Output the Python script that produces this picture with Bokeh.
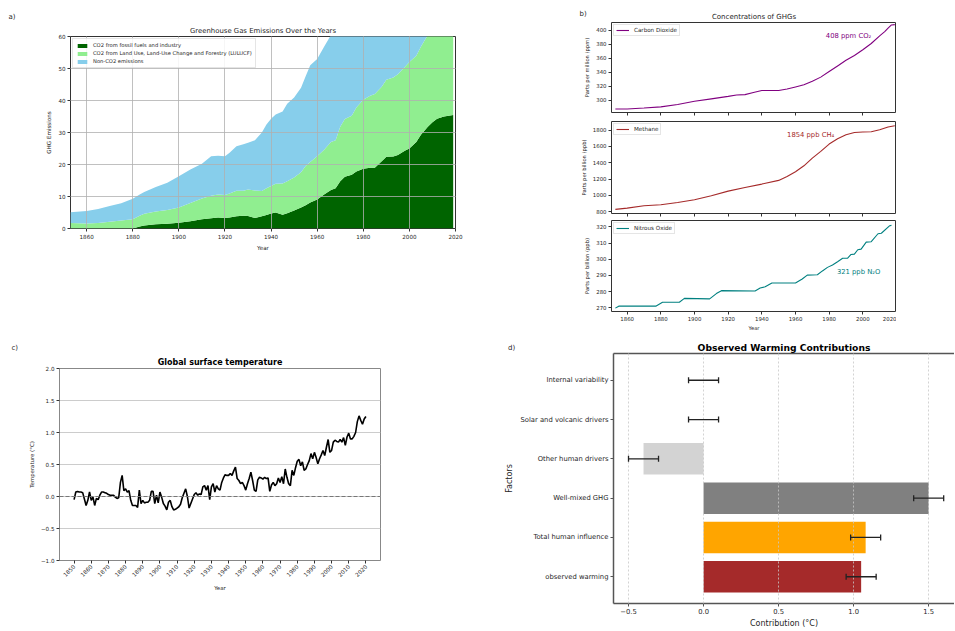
import math
import numpy as np
from bokeh.plotting import figure
from bokeh.models import (ColumnDataSource, Range1d, FixedTicker, Label, Span,
                          Whisker, LinearAxis, TeeHead)
from bokeh.layouts import row, column
from bokeh.embed import file_html
from bokeh.resources import INLINE

FONT = "DejaVu Sans"
TXT = "#262626"

# ---------------- a) emissions (stacked) ----------------
emis_years = [1853, 1860, 1865, 1870, 1875, 1880, 1883, 1885, 1890, 1895, 1900, 1905, 1910, 1914,
              1917, 1920, 1922, 1925, 1928, 1930, 1933, 1936, 1938, 1940, 1942, 1945, 1947, 1950,
              1953, 1955, 1957, 1960, 1963, 1966, 1968, 1970, 1972, 1975, 1977, 1980, 1983, 1985,
              1988, 1990, 1993, 1995, 1998, 2000, 2003, 2005, 2008, 2010, 2012, 2015, 2019]
fossil = [0.0, 0.0, 0.0, 0.0, 0.0, 0.0, 0.6, 0.9, 1.3, 1.5, 1.8, 2.3, 2.9, 3.2,
          3.4, 3.3, 3.4, 3.8, 4.0, 3.9, 3.3, 3.8, 4.2, 4.7, 5.0, 4.3, 4.8, 5.6,
          6.6, 7.3, 8.1, 9.1, 10.6, 12.0, 12.6, 14.8, 16.2, 16.8, 17.8, 18.7, 19.0, 19.0,
          21.0, 22.4, 22.5, 23.0, 24.3, 25.0, 27.0, 29.3, 31.8, 33.2, 34.3, 35.0, 35.5]
luc = [1.7, 1.6, 1.7, 2.1, 2.5, 2.9, 3.4, 3.7, 4.0, 4.3, 4.8, 5.7, 6.5, 7.0,
       7.2, 7.2, 7.5, 8.0, 7.8, 8.3, 8.6, 7.9, 8.4, 8.6, 9.0, 9.8, 10.0, 10.3,
       11.0, 12.2, 12.7, 13.5, 14.0, 15.0, 15.0, 17.0, 18.0, 18.4, 20.0, 21.5, 22.5, 23.0,
       23.3, 24.1, 24.7, 25.2, 26.2, 27.0, 27.0, 27.5, 28.7, 28.8, 28.7, 29.0, 29.5]
non_co2 = [3.4, 3.9, 4.4, 4.9, 5.4, 6.4, 6.6, 6.8, 7.7, 8.5, 9.7, 10.4, 10.8, 12.4,
           12.1, 12.1, 12.8, 13.9, 14.5, 14.6, 15.7, 18.3, 19.9, 21.0, 21.6, 22.5, 24.2, 25.0,
           26.4, 28.1, 30.2, 30.4, 32.2, 33.5, 36.4, 36.2, 36.0, 37.0, 37.0, 37.0, 37.0, 37.0,
           37.0, 37.0, 37.0, 37.0, 37.0, 37.0, 37.0, 37.0, 37.0, 37.0, 37.0, 37.0, 37.0]
emis_labels = ["CO2 from fossil fuels and industry",
               "CO2 from Land Use, Land-Use Change and Forestry (LULUCF)",
               "Non-CO2 emissions"]
emis_colors = ["#006400", "#90EE90", "#87CEEB"]
a_xticks = [1860, 1880, 1900, 1920, 1940, 1960, 1980, 2000, 2020]
a_yticks = [0, 10, 20, 30, 40, 50, 60]

# ---------------- b) concentrations ----------------
co2_years = [1853, 1860, 1870, 1880, 1890, 1900, 1910, 1920, 1925, 1930, 1935, 1940, 1945, 1950,
             1955, 1960, 1965, 1970, 1975, 1980, 1985, 1990, 1995, 2000, 2005, 2010, 2013, 2015,
             2017, 2019]
co2_ppm = [287.4, 287.6, 289.0, 290.5, 294.0, 298.5, 302.0, 305.5, 307.5, 308.0, 311.0, 314.0,
           314.0, 314.0, 316.0, 319.0, 322.0, 327.0, 333.0, 341.0, 349.0, 357.0, 364.0, 372.0,
           381.0, 392.0, 398.0, 403.0, 407.5, 408.0]
ch4_years = [1853, 1860, 1870, 1880, 1890, 1900, 1910, 1920, 1930, 1940, 1950, 1955, 1960, 1965,
             1970, 1975, 1980, 1985, 1990, 1995, 2000, 2005, 2010, 2015, 2019]
ch4_ppb = [829, 845, 873, 886, 914, 947, 996, 1053, 1098, 1139, 1184, 1233, 1290, 1363,
           1457, 1539, 1629, 1694, 1743, 1771, 1776, 1780, 1804, 1837, 1854]
n2o_years = [1853, 1855, 1877, 1881, 1891, 1894, 1909, 1913, 1916, 1936, 1939, 1942, 1946, 1960,
             1964, 1967, 1973, 1976, 1979, 1982, 1985, 1988, 1991, 1993, 1995, 1997, 1999, 2002,
             2005, 2009, 2011, 2016, 2017]
n2o_ppb = [269.8, 271.0, 271.0, 273.4, 273.4, 275.8, 275.5, 278.8, 280.6, 280.4, 282.2, 283.0,
           285.3, 285.3, 287.8, 290.2, 290.4, 292.8, 295.0, 296.5, 298.5, 300.6, 300.7, 303.0,
           303.2, 305.9, 306.3, 310.6, 310.9, 315.8, 316.1, 320.8, 321.0]
b_xticks = [1860, 1880, 1900, 1920, 1940, 1960, 1980, 2000, 2020]
co2_yticks = [300, 320, 340, 360, 380, 400]
ch4_yticks = [800, 1000, 1200, 1400, 1600, 1800]
n2o_yticks = [270, 280, 290, 300, 310, 320]

# ---------------- c) temperature ----------------
temp_years = list(range(1850, 2021))
temp_anom = [
    -0.05, 0.07, 0.08, 0.07, 0.07, 0.06, -0.04, -0.14, -0.06, 0.07,
    -0.06, -0.01, -0.14, -0.03, -0.05, 0.02, 0.07, 0.07, 0.06, 0.05,
    0.03, 0.02, 0.02, 0.02, -0.01, -0.03, -0.02, 0.22, 0.33, 0.09,
    0.12, 0.07, 0.09, -0.06, -0.14, -0.14, -0.14, -0.17, 0.10, -0.11,
    -0.06, -0.10, -0.09, -0.09, -0.06, 0.08, 0.08, -0.11, 0.02, -0.10,
    0.07, -0.01, -0.11, -0.15, -0.21, -0.09, -0.06, -0.16, -0.21, -0.20,
    -0.18, -0.16, -0.12, -0.02, 0.05, 0.12, 0.00, -0.18, -0.11, -0.04,
    0.03, 0.06, 0.02, 0.04, 0.03, 0.15, 0.17, 0.10, 0.17, -0.05,
    0.15, 0.20, 0.07, 0.17, 0.12, 0.10, 0.22, 0.29, 0.34, 0.33,
    0.33, 0.36, 0.33, 0.40, 0.46, 0.28, 0.25, 0.20, 0.22, 0.17,
    0.10, 0.20, 0.28, 0.38, 0.25, 0.10, 0.08, 0.26, 0.30, 0.29,
    0.27, 0.30, 0.28, 0.29, 0.08, 0.18, 0.22, 0.17, 0.20, 0.29,
    0.22, 0.31, 0.20, 0.43, 0.30, 0.20, 0.17, 0.41, 0.33, 0.45,
    0.55, 0.58, 0.48, 0.54, 0.41, 0.43, 0.50, 0.56, 0.67, 0.59,
    0.69, 0.61, 0.51, 0.59, 0.65, 0.72, 0.64, 0.77, 0.89, 0.69,
    0.72, 0.85, 0.88, 0.86, 0.85, 0.89, 0.85, 0.92, 0.80, 0.93,
    0.99, 0.90, 0.90, 0.94, 1.00, 1.17, 1.26, 1.19, 1.13, 1.21,
    1.25]
c_xticks = [1850, 1860, 1870, 1880, 1890, 1900, 1910, 1920, 1930, 1940, 1950, 1960, 1970,
            1980, 1990, 2000, 2010, 2020]
c_yticks = [-1.0, -0.5, 0.0, 0.5, 1.0, 1.5, 2.0]
c_ylabels = ["\u22121.0", "\u22120.5", "0.0", "0.5", "1.0", "1.5", "2.0"]

# ---------------- d) contributions ----------------
factors = ["observed warming", "Total human influence", "Well-mixed GHG",
           "Other human drivers", "Solar and volcanic drivers", "Internal variability"]
contrib = [1.05, 1.08, 1.50, -0.40, 0.0, 0.0]
contrib_err = [0.10, 0.10, 0.10, 0.10, 0.10, 0.10]
bar_colors = ["#A52A2A", "#FFA500", "#808080", "#D3D3D3", "#4682B4", "#4682B4"]
d_xticks = [-0.5, 0.0, 0.5, 1.0, 1.5]
d_xlabels = ["\u22120.5", "0.0", "0.5", "1.0", "1.5"]


def base_fig(width, height, x_range, y_range, mb, tick_size="5.6px", label_size="5.6px"):
    p = figure(width=width, height=height, x_range=x_range, y_range=y_range,
               output_backend="svg", toolbar_location=None,
               min_border_left=mb[0], min_border_right=mb[1],
               min_border_top=mb[2], min_border_bottom=mb[3])
    p.frame_align = False
    p.background_fill_color = "white"
    p.border_fill_color = "white"
    p.outline_line_color = "#333333"
    p.outline_line_width = 1
    for ax in p.axis:
        ax.axis_line_color = None
        ax.major_tick_line_color = "#333333"
        ax.major_tick_out = 3
        ax.major_tick_in = 0
        ax.minor_tick_line_color = None
        ax.major_label_text_font = FONT
        ax.major_label_text_color = TXT
        ax.major_label_text_font_size = tick_size
        ax.axis_label_text_font = FONT
        ax.axis_label_text_font_style = "normal"
        ax.axis_label_text_color = TXT
        ax.axis_label_text_font_size = label_size
        ax.major_label_standoff = 2
        ax.axis_label_standoff = 3
    p.title.text_font = FONT
    p.title.text_font_style = "normal"
    p.title.align = "center"
    p.title.text_color = TXT
    p.xgrid.visible = False
    p.ygrid.visible = False
    return p


def panel_label(p, text, x, y):
    # placed in the left side panel so that it is not clipped to the frame
    p.add_layout(Label(x=x, y=y, x_units="screen", y_units="screen", text=text,
                       text_font=FONT, text_font_size="7px", text_color=TXT,
                       text_baseline="middle", text_align="left"), "left")


def style_legend(lg, size, gw, gh, lh, spacing, pad):
    lg.location = "top_left"
    lg.label_text_font = FONT
    lg.label_text_font_size = size
    lg.label_text_color = TXT
    lg.glyph_width = gw
    lg.glyph_height = gh
    lg.label_height = lh
    lg.label_standoff = 5
    lg.spacing = spacing
    lg.padding = pad
    lg.margin = 2
    lg.border_line_color = "#cccccc"
    lg.border_line_width = 0.8
    lg.background_fill_alpha = 0.85


# ======== a ========
pa = base_fig(480, 338, Range1d(1853, 2020), Range1d(0, 60), (70, 25, 36, 110))
src_a = ColumnDataSource(dict(year=emis_years, fossil=fossil, luc=luc, non=non_co2))
pa.varea_stack(stackers=["fossil", "luc", "non"], x="year", color=emis_colors,
               legend_label=emis_labels, source=src_a)
pa.title.text = "Greenhouse Gas Emissions Over the Years"
pa.title.text_font_size = "6.9px"
pa.title.standoff = 3
pa.xaxis.ticker = FixedTicker(ticks=a_xticks)
pa.yaxis.ticker = FixedTicker(ticks=a_yticks)
pa.xaxis.axis_label = "Year"
pa.yaxis.axis_label = "GHG Emissions"
for g in (pa.xgrid, pa.ygrid):
    g.visible = True
    g.grid_line_color = "#b0b0b0"
    g.grid_line_width = 0.8
    g.level = "annotation"
style_legend(pa.legend[0], "5.2px", 12, 5, 6, 2, 3)
panel_label(pa, "a)", -28, 212)

# ======== b ========
bx = Range1d(1850.7, 2020)


def conc_fig(height, mb, y_rng, yticks, xs, ys, color, name, ylabel, note, nx, ny, show_x):
    p = base_fig(416, height, bx, y_rng, mb, tick_size="5.4px", label_size="5.2px")
    p.line(xs, ys, line_color=color, line_width=1.1, legend_label=name)
    p.yaxis.ticker = FixedTicker(ticks=yticks)
    p.yaxis.axis_label = ylabel
    if show_x:
        p.xaxis.ticker = FixedTicker(ticks=b_xticks)
        p.xaxis.axis_label = "Year"
        p.xaxis.axis_label_standoff = 1
    else:
        ax = p.xaxis[0]
        ax.ticker = FixedTicker(ticks=[], minor_ticks=b_xticks)
        ax.minor_tick_line_color = "#333333"
        ax.minor_tick_out = 3
        ax.minor_tick_in = 0
        ax.major_label_standoff = 0
    style_legend(p.legend[0], "5.6px", 13, 6, 6, 1, 2)
    p.add_layout(Label(x=nx, y=ny, text=note, text_font=FONT, text_font_size="6.8px",
                       text_color=color, text_align="center", text_baseline="middle"))
    return p


pb1 = conc_fig(120, (131, 0, 22, 8), Range1d(282.5, 411), co2_yticks, co2_years, co2_ppm,
               "#800080", "Carbon Dioxide", "Parts per million (ppm)", "408 ppm CO\u2082",
               1991.5, 392, False)
pb1.title.text = "Concentrations of GHGs"
pb1.title.text_font_size = "7px"
pb1.title.standoff = 4
panel_label(pb1, "b)", 5, 98.7)

pb2 = conc_fig(98, (131, 0, 1, 5), Range1d(779, 1905), ch4_yticks, ch4_years, ch4_ppb,
               "#A52A2A", "Methane", "Parts per billion (ppb)", "1854 ppb CH\u2084",
               1969, 1735, False)

pb3 = conc_fig(115, (131, 0, 2, 20), Range1d(267.7, 324), n2o_yticks, n2o_years, n2o_ppb,
               "#008080", "Nitrous Oxide", "Parts per billion (ppb)", "321 ppb N\u2082O",
               1997.5, 292.3, True)

# ======== c ========
pc = base_fig(480, 292, Range1d(1841.5, 2028.5), Range1d(-1, 2), (59, 100, 30, 70),
              tick_size="5.6px", label_size="5.4px")
pc.line(temp_years, temp_anom, line_color="black", line_width=1.6)
pc.add_layout(Span(location=0, dimension="width", line_color="#777777",
                   line_dash="4 2", line_width=1))
pc.title.text = "Global surface temperature"
pc.title.text_font_size = "8px"
pc.title.text_font_style = "bold"
pc.title.text_color = "black"
pc.title.standoff = 3
pc.outline_line_color = "#888888"
pc.xaxis.ticker = FixedTicker(ticks=c_xticks)
pc.yaxis.ticker = FixedTicker(ticks=c_yticks)
pc.yaxis.major_label_overrides = {t: l for t, l in zip(c_yticks, c_ylabels)}
pc.xaxis.major_label_orientation = math.pi / 4
pc.xaxis.axis_label = "Year"
pc.yaxis.axis_label = "Temperature (\u00b0C)"
pc.ygrid.visible = True
pc.ygrid.grid_line_color = "#cccccc"
pc.ygrid.grid_line_width = 1
panel_label(pc, "c)", -7, 213)

# ======== d ========
ypos = list(range(len(factors)))
pd_ = base_fig(474, 297, Range1d(-0.6, 1.672), Range1d(-0.68, 5.68), (133, 0, 20, 25),
               tick_size="6.8px", label_size="8px")
lo = (np.array(contrib) - np.array(contrib_err)).tolist()
hi = (np.array(contrib) + np.array(contrib_err)).tolist()
src_d = ColumnDataSource(dict(y=ypos, val=contrib, lo=lo, hi=hi, color=bar_colors))
pd_.hbar(y="y", left=0, right="val", height=0.8, fill_color="color", line_color=None,
         source=src_d)
ecol = "#222222"
wk = Whisker(source=src_d, base="y", lower="lo", upper="hi", dimension="width",
             line_color=ecol, line_width=1.3,
             upper_head=TeeHead(size=6, line_color=ecol, line_width=1.3),
             lower_head=TeeHead(size=6, line_color=ecol, line_width=1.3))
wk.level = "overlay"
pd_.add_layout(wk)
pd_.title.text = "Observed Warming Contributions"
pd_.title.text_font_size = "9.2px"
pd_.title.text_font_style = "bold"
pd_.title.text_color = "black"
pd_.title.standoff = 2
pd_.outline_line_color = None
pd_.xaxis.ticker = FixedTicker(ticks=d_xticks)
pd_.xaxis.major_label_overrides = {t: l for t, l in zip(d_xticks, d_xlabels)}
pd_.yaxis.ticker = FixedTicker(ticks=ypos)
pd_.yaxis.major_label_overrides = {i: f for i, f in zip(ypos, factors)}
pd_.xaxis.axis_label = "Contribution (\u00b0C)"
pd_.yaxis.axis_label = "Factors"
pd_.xaxis.axis_label_standoff = 2
for ax in (pd_.xaxis[0], pd_.yaxis[0]):
    ax.axis_line_color = "#555555"
    ax.axis_line_width = 1.5
    ax.major_tick_line_color = "#555555"
top_ax = LinearAxis(ticker=FixedTicker(ticks=[]),
                    axis_line_color="#555555", axis_line_width=1.5,
                    major_tick_line_color=None, minor_tick_line_color=None,
                    major_label_standoff=0)
pd_.add_layout(top_ax, "above")
pd_.xgrid.visible = True
pd_.xgrid.grid_line_color = "#c8c8c8"
pd_.xgrid.grid_line_dash = "2 2"
pd_.xgrid.grid_line_width = 0.8
pd_.xgrid.level = "annotation"
panel_label(pd_, "d)", 12.6, 255.3)

layout = row(column(pa, pc), column(pb1, pb2, pb3, pd_))
open("out.html", "w").write(file_html(layout, INLINE, "Climate figures"))
